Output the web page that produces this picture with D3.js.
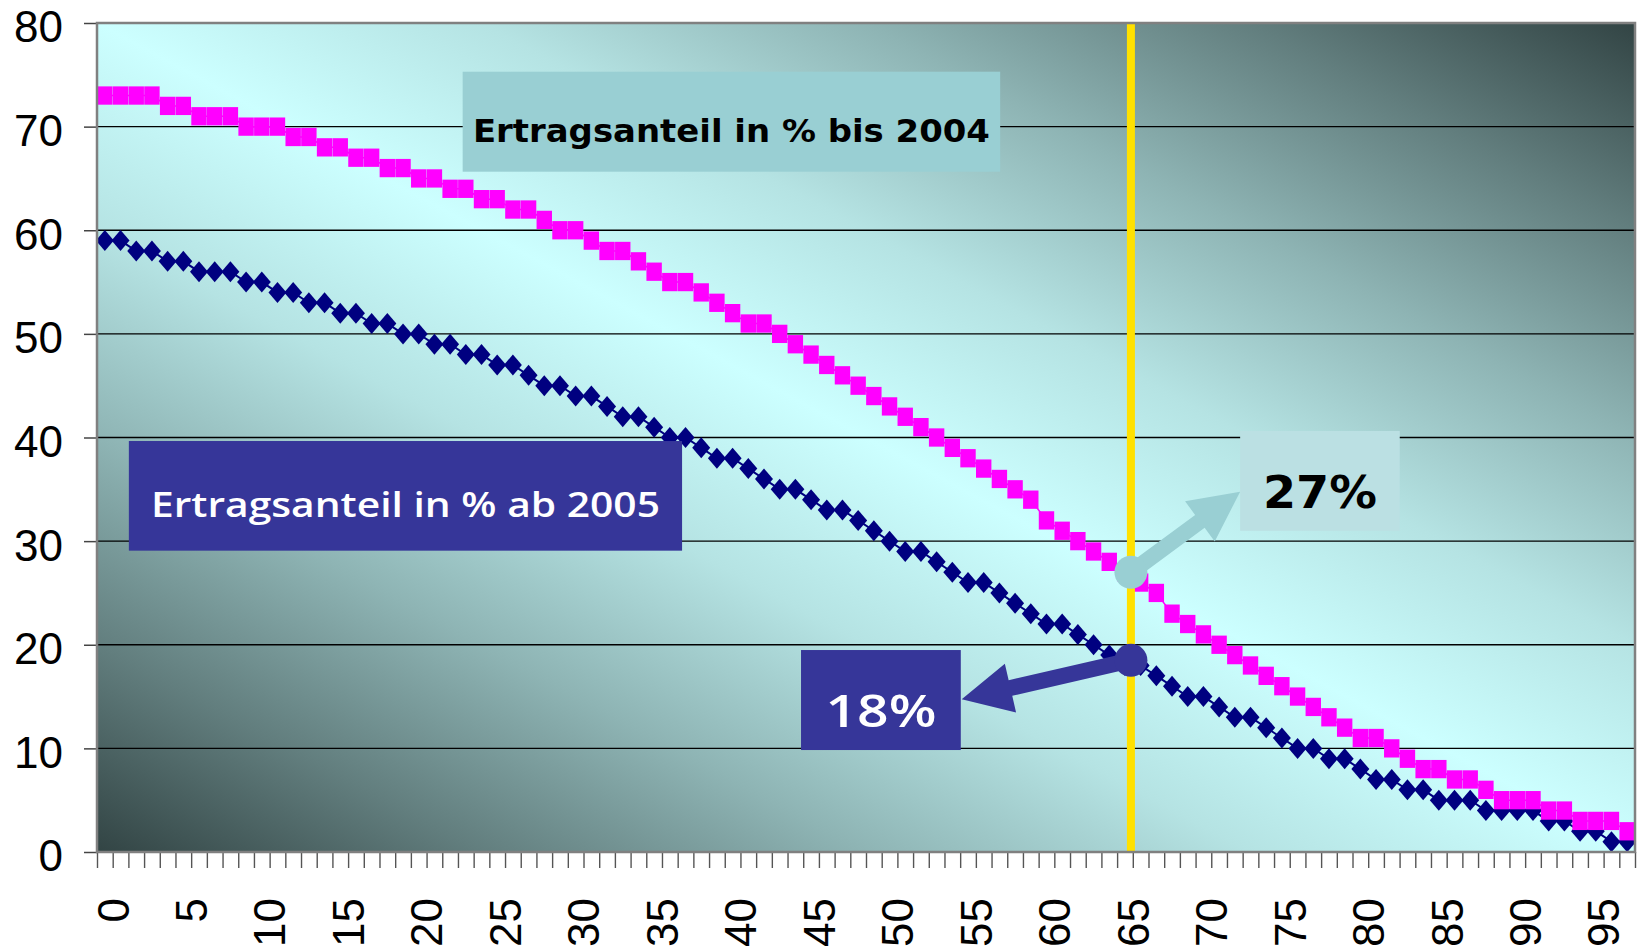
<!DOCTYPE html>
<html><head><meta charset="utf-8">
<script src="https://cdn.jsdelivr.net/npm/d3@7"></script>
<style>html,body{margin:0;padding:0;background:#fff;} svg{display:block;}</style>
</head><body>
<svg id="c" width="1640" height="952"></svg>
<script>
// ---- data ----
const ages = [0,1,2,3,4,5,6,7,8,9,10,11,12,13,14,15,16,17,18,19,20,21,22,23,24,25,26,27,28,29,30,31,32,33,34,35,36,37,38,39,40,41,42,43,44,45,46,47,48,49,50,51,52,53,54,55,56,57,58,59,60,61,62,63,64,65,66,67,68,69,70,71,72,73,74,75,76,77,78,79,80,81,82,83,84,85,86,87,88,89,90,91,92,93,94,95,96,97];
const ertragBis2004 = [73,73,73,73,72,72,71,71,71,70,70,70,69,69,68,68,67,67,66,66,65,65,64,64,63,63,62,62,61,60,60,59,58,58,57,56,55,55,54,53,52,51,51,50,49,48,47,46,45,44,43,42,41,40,39,38,37,36,35,34,32,31,30,29,28,27,26,25,23,22,21,20,19,18,17,16,15,14,13,12,11,11,10,9,8,8,7,7,6,5,5,5,4,4,3,3,3,2];
const ertragAb2005 = [59,59,58,58,57,57,56,56,56,55,55,54,54,53,53,52,52,51,51,50,50,49,49,48,48,47,47,46,45,45,44,44,43,42,42,41,40,40,39,38,38,37,36,35,35,34,33,33,32,31,30,29,29,28,27,26,26,25,24,23,22,22,21,20,19,18,18,17,16,15,15,14,13,13,12,11,10,10,9,9,8,7,7,6,6,5,5,5,4,4,4,4,3,3,2,2,1,1];
const yTickValues = [0,10,20,30,40,50,60,70,80];
const xTickLabels = ["0","5","10","15","20","25","30","35","40","45","50","55","60","65","70","75","80","85","90","95"];
const markerAge = 65;
const labelOld = "Ertragsanteil in % bis 2004";
const labelNew = "Ertragsanteil in % ab 2005";
const pctOld = "27%";
const pctNew = "18%";

// ---- layout ----
const plot = {left:97, right:1635, top:23, bottom:852};
const svg = d3.select("#c");
const x = d3.scaleBand().domain(ages).range([plot.left, plot.right]).padding(0);
const xc = a => x(a) + x.bandwidth()/2;
const xl = d3.scaleLinear().domain([0, ages.length]).range([plot.left, plot.right]);
const y = d3.scaleLinear().domain([0,80]).range([plot.bottom, plot.top]);

// background gradient (dark corners, light diagonal band)
const defs = svg.append("defs");
const g = defs.append("linearGradient").attr("id","bg")
  .attr("x1",0).attr("y1",1).attr("x2",1).attr("y2",0);
const dark = d3.rgb(50,68,68), light = d3.rgb(204,255,255);
const mix = d3.interpolateRgb(dark, light);
const stops = [[0,0],[0.125,0.31],[0.25,0.6],[0.375,0.85],[0.5,1]];
stops.concat(stops.slice(0,-1).reverse().map(([o,f])=>[1-o,f])).forEach(([o,f])=>{
  g.append("stop").attr("offset",o).attr("stop-color",mix(f));
});

svg.append("rect").attr("x",plot.left).attr("y",plot.top)
  .attr("width",plot.right-plot.left).attr("height",plot.bottom-plot.top)
  .attr("fill","url(#bg)");

// gridlines
svg.append("g").selectAll("line").data(yTickValues.filter(v=>v>0 && v<80)).join("line")
  .attr("x1",plot.left).attr("x2",plot.right)
  .attr("y1",d=>y(d)).attr("y2",d=>y(d))
  .attr("stroke","#000").attr("stroke-width",1.3);

// series: ab 2005 (navy diamonds)
const line = d3.line().x((d,i)=>xc(ages[i])).y(d=>y(d));
svg.append("path").datum(ertragAb2005).attr("d",line)
  .attr("fill","none").attr("stroke","#000080").attr("stroke-width",2);
const dw=18, dh=21;
svg.append("g").selectAll("path").data(ertragAb2005).join("path")
  .attr("d",`M0,${-dh/2}L${dw/2},0L0,${dh/2}L${-dw/2},0Z`)
  .attr("transform",(d,i)=>`translate(${xc(ages[i])},${y(d)})`)
  .attr("fill","#000080");

// series: bis 2004 (magenta squares)
svg.append("path").datum(ertragBis2004).attr("d",line)
  .attr("fill","none").attr("stroke","#FF00FF").attr("stroke-width",1.5);
const sw=15.4, sh=18.3;
svg.append("g").selectAll("rect").data(ertragBis2004).join("rect")
  .attr("x",(d,i)=>xc(ages[i])-sw/2).attr("y",d=>y(d)-sh/2)
  .attr("width",sw).attr("height",sh).attr("fill","#FF00FF");

// yellow marker line
const xMark = xl(markerAge + 0.88);
svg.append("line").attr("x1",xMark).attr("x2",xMark)
  .attr("y1",plot.top).attr("y2",plot.bottom)
  .attr("stroke","#FFE100").attr("stroke-width",8);

// boxes
function box(x0,x1,yt,yb,fill,text,tColor,font,weight,size,tlen,baseOff){
  const X0=xl(x0), X1=xl(x1), Y0=y(yt), Y1=y(yb);
  svg.append("rect").attr("x",X0).attr("y",Y0).attr("width",X1-X0).attr("height",Y1-Y0).attr("fill",fill);
  svg.append("text").attr("x",(X0+X1)/2).attr("y",Y0+baseOff)
    .attr("text-anchor","middle").attr("font-family",font).attr("font-weight",weight)
    .attr("font-size",size).attr("fill",tColor)
    .attr("textLength",tlen).attr("lengthAdjust","spacingAndGlyphs").text(text);
}
box(23.3,57.55,75.3,65.65,"#99CFD3",labelOld,"#000","DejaVu Sans","bold",31.5,517,70.7);
box(2.03,37.28,39.66,29.08,"#363699",labelNew,"#fff","Open Sans","600",35,509,75.7);
box(72.84,83.01,40.63,31.0,"#BBE0E3",pctOld,"#000","DejaVu Sans","bold",45,114,77.3);
box(44.86,55.04,19.49,9.84,"#363699",pctNew,"#fff","Open Sans","600",46,111,76.7);

// arrows
function arrow(ax,ay,bx,by,color){
  const X0=xl(ax),Y0=y(ay),X1=xl(bx),Y1=y(by);
  const dx=X1-X0, dy=Y1-Y0, L=Math.hypot(dx,dy), ux=dx/L, uy=dy/L, px=-uy, py=ux;
  const hl=50, hw=25, sw2=8;
  const bx0=X1-ux*hl, by0=Y1-uy*hl;
  const pts=[[X0+px*sw2,Y0+py*sw2],[bx0+px*sw2,by0+py*sw2],[bx0+px*hw,by0+py*hw],[X1,Y1],
             [bx0-px*hw,by0-py*hw],[bx0-px*sw2,by0-py*sw2],[X0-px*sw2,Y0-py*sw2]];
  svg.append("path").attr("d","M"+pts.map(p=>p.join(",")).join("L")+"Z").attr("fill",color);
  svg.append("circle").attr("cx",X0).attr("cy",Y0).attr("r",16.5).attr("fill",color);
}
arrow(markerAge+0.88, 27, 72.84, 34.77, "#99CFD3");
arrow(markerAge+0.88, 18.5, 55.1, 14.74, "#363699");

// axes
const yAx = svg.append("g").attr("transform",`translate(${plot.left},0)`)
  .call(d3.axisLeft(y).tickValues(yTickValues).tickSize(13).tickPadding(21));
yAx.select(".domain").remove();
yAx.selectAll("line").attr("stroke","#444").attr("stroke-width",1.5);
yAx.selectAll("text").attr("font-family","Liberation Sans, Arial, sans-serif")
  .attr("font-size",44).attr("fill","#000").attr("dy","0.43em");

const xAx = svg.append("g").attr("transform",`translate(0,${plot.bottom})`)
  .call(d3.axisBottom(xl).tickValues(d3.range(0, ages.length+1)).tickSize(16).tickFormat(""));
xAx.select(".domain").remove();
xAx.selectAll("line").attr("stroke","#555").attr("stroke-width",1.4);

svg.append("g").selectAll("text").data(xTickLabels).join("text")
  .attr("transform",d=>`translate(${xl(+d+1)},898) rotate(-90)`)
  .attr("text-anchor","end").attr("dy","0.36em")
  .attr("font-family","Liberation Sans, Arial, sans-serif").attr("font-size",44).attr("fill","#000")
  .text(d=>d);

// plot border
svg.append("rect").attr("x",plot.left).attr("y",plot.top)
  .attr("width",plot.right-plot.left).attr("height",plot.bottom-plot.top)
  .attr("fill","none").attr("stroke","#808080").attr("stroke-width",2.5);
</script>
</body></html>
